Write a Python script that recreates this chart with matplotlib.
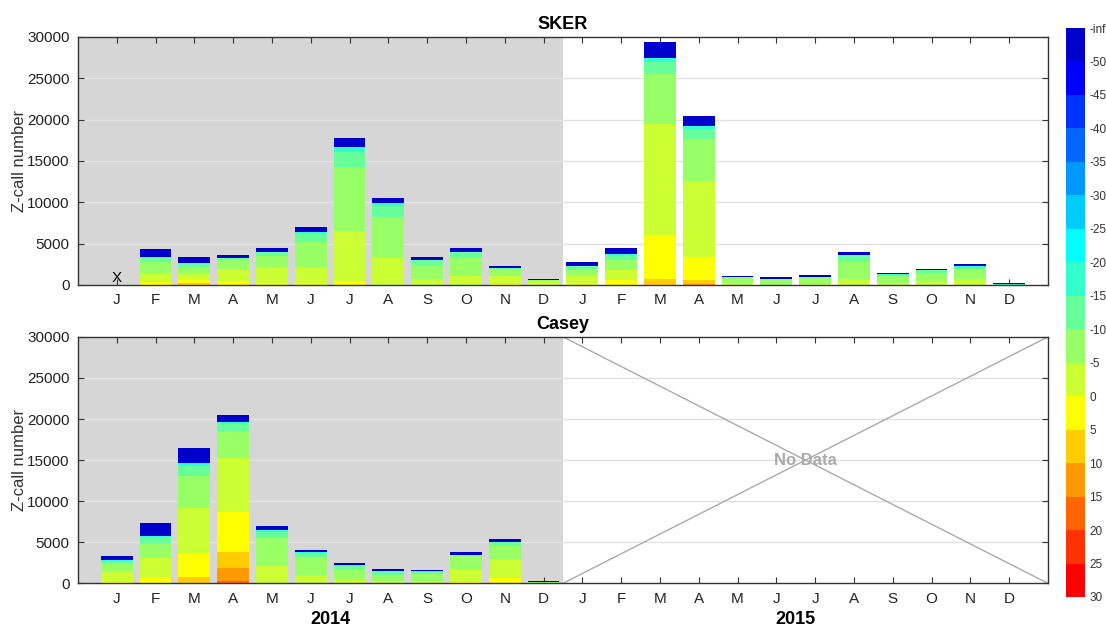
import numpy as np
import matplotlib
matplotlib.use('Agg')
import matplotlib.pyplot as plt
from matplotlib import colors as mcolors
from matplotlib import cm as mcm

plt.rcParams['font.family'] = ['Liberation Sans', 'DejaVu Sans']

# Datos
months = ['J', 'F', 'M', 'A', 'M', 'J', 'J', 'A', 'S', 'O', 'N', 'D'] * 2
years = ['2014', '2015']
sites = ['SKER', 'Casey']

# limites de los bins de SNR (de abajo hacia arriba en la barra de color)
bin_ticks = ['30', '25', '20', '15', '10', '5', '0', '-5', '-10', '-15', '-20',
             '-25', '-30', '-35', '-40', '-45', '-50', '-inf']
bin_colors = ['#FF0000', '#FF3300', '#FF6600', '#FF9900', '#FFCC00', '#FFFF00',
              '#CCFF33', '#99FF66', '#66FF99', '#33FFCC', '#00FFFF', '#00CCFF',
              '#0099FF', '#0066FF', '#0033FF', '#0000FF', '#0000CC']

# SKER, 2014 ene. sin datos
sker_15_20 = [0]*24
sker_10_15 = [0]*15 + [120] + [0]*8
sker_5_10 = [0, 0, 200, 0, 0, 0, 0, 0, 0, 0, 0, 0,
             0, 0, 730, 490, 0, 0, 0, 0, 0, 0, 0, 0]
sker_0_5 = [0, 330, 370, 450, 200, 200, 490, 50, 0, 0, 120, 0,
            240, 610, 5340, 2790, 0, 0, 0, 0, 0, 0, 0, 0]
sker_m5_0 = [0, 970, 730, 1450, 1950, 1950, 6060, 3230, 730, 1090, 970, 360,
             970, 1210, 13350, 9220, 240, 50, 120, 730, 240, 490, 730, 0]
sker_m10_m5 = [0, 1450, 850, 1180, 1410, 3030, 7770, 4970, 1700, 2190, 850, 250,
               730, 1210, 6070, 4980, 730, 680, 850, 2060, 850, 970, 1210, 0]
sker_m15_m10 = [0, 510, 480, 160, 410, 970, 1820, 1340, 600, 720, 120, 0,
                370, 600, 1450, 1210, 0, 0, 0, 850, 120, 360, 120, 0]
sker_m20_m15 = [0, 100, 0, 0, 0, 250, 490, 360, 0, 0, 0, 0,
                0, 130, 490, 360, 0, 0, 0, 0, 120, 0, 250, 120]
sker_m50_m45 = [0]*24
sker_minf_m50 = [0, 970, 730, 360, 480, 600, 1090, 610, 370, 490, 250, 120,
                 480, 730, 1940, 1220, 120, 240, 240, 360, 130, 120, 240, 120]

# Casey, 2015 sin datos
casey_15_20 = [0, 0, 0, 320, 0, 0, 0, 0, 0, 0, 0, 0] + [0]*12
casey_10_15 = [0, 0, 0, 1600, 0, 0, 0, 0, 0, 0, 0, 0] + [0]*12
casey_5_10 = [0, 0, 770, 1920, 0, 0, 0, 0, 0, 0, 0, 0] + [0]*12
casey_0_5 = [160, 770, 2830, 4790, 0, 0, 0, 0, 0, 160, 650, 0] + [0]*12
casey_m5_0 = [1350, 2330, 5520, 6620, 2120, 1020, 400, 280, 280, 1470, 2330, 80] + [0]*12
casey_m10_m5 = [980, 1850, 3920, 3350, 3440, 2210, 1350, 740, 860, 1720, 1600, 80] + [0]*12
casey_m15_m10 = [250, 740, 1230, 860, 730, 490, 370, 490, 250, 120, 490, 0] + [0]*12
casey_m20_m15 = [120, 120, 370, 210, 250, 120, 130, 0, 120, 0, 0, 0] + [0]*12
casey_m50_m45 = [0, 120, 120, 0, 0, 0, 0, 0, 0, 0, 0, 0] + [0]*12
casey_minf_m50 = [490, 1470, 1720, 860, 490, 250, 240, 240, 120, 370, 370, 120] + [0]*12

# indice de bin (0 = 25..30 abajo, 16 = -inf..-50 arriba)
sker_bins = {2: sker_15_20, 3: sker_10_15, 4: sker_5_10, 5: sker_0_5, 6: sker_m5_0,
             7: sker_m10_m5, 8: sker_m15_m10, 9: sker_m20_m15, 15: sker_m50_m45,
             16: sker_minf_m50}
casey_bins = {2: casey_15_20, 3: casey_10_15, 4: casey_5_10, 5: casey_0_5, 6: casey_m5_0,
              7: casey_m10_m5, 8: casey_m15_m10, 9: casey_m20_m15, 15: casey_m50_m45,
              16: casey_minf_m50}

x = np.arange(1, 25)

fig = plt.figure(figsize=(11.06, 6.28), dpi=100)
ax1 = fig.add_axes([0.0705, 0.5462, 0.877, 0.395])
ax2 = fig.add_axes([0.0705, 0.0711, 0.877, 0.3925])
cax = fig.add_axes([0.9638, 0.0494, 0.0172, 0.906])


def plotAx(ax, data, title):
    ax.axvspan(0, 12.5, color='#D6D6D6', zorder=0, lw=0)
    for yv in range(5000, 30000, 5000):
        ax.axhline(yv, color='#E2E2E2', lw=1, zorder=0.5)
    bottom = np.zeros(24)
    for k in sorted(data):
        vals = np.array(data[k], dtype=float)
        ax.bar(x, vals, width=0.82, bottom=bottom, color=bin_colors[k], lw=0, zorder=2)
        bottom += vals
    ax.set_xlim(0, 25)
    ax.set_ylim(0, 30000)
    ax.set_xticks(x)
    ax.set_xticklabels(months)
    ax.set_yticks(range(0, 30001, 5000))
    ax.tick_params(direction='in', top=True, right=True, labelsize=11, length=4,
                   color='#333333', labelcolor='#222222', pad=6)
    for s in ax.spines.values():
        s.set_color('#333333')
        s.set_linewidth(1)
    ax.set_ylabel('Z-call number', fontsize=12, color='#333333', labelpad=0)
    ax.set_title(title, fontsize=13, fontweight='bold', pad=6)


plotAx(ax1, sker_bins, sites[0])
ax1.text(1, 0, 'X', ha='center', va='bottom', fontsize=11)

plotAx(ax2, casey_bins, sites[1])
ax2.plot([12.5, 25], [30000, 0], color='#AAAAAA', lw=1, zorder=1)
ax2.plot([12.5, 25], [0, 30000], color='#AAAAAA', lw=1, zorder=1)
ax2.text(18.75, 15000, 'No Data', ha='center', va='center', fontsize=12,
         fontweight='bold', color='#AAAAAA')
ax2.text(6.5, -0.145, years[0], transform=ax2.get_xaxis_transform(), ha='center',
         va='center', fontsize=13, fontweight='bold')
ax2.text(18.5, -0.145, years[1], transform=ax2.get_xaxis_transform(), ha='center',
         va='center', fontsize=13, fontweight='bold')

# Barra de color
cmap = mcolors.ListedColormap(bin_colors)
norm = mcolors.BoundaryNorm(np.arange(18), cmap.N)
cb = fig.colorbar(mcm.ScalarMappable(norm=norm, cmap=cmap), cax=cax,
                  ticks=np.arange(18))
cb.ax.set_yticklabels(bin_ticks)
cb.ax.tick_params(length=0, labelsize=8.5, pad=3, labelcolor='#333333')
cb.outline.set_linewidth(0)

plt.savefig('out.png', dpi=100)
